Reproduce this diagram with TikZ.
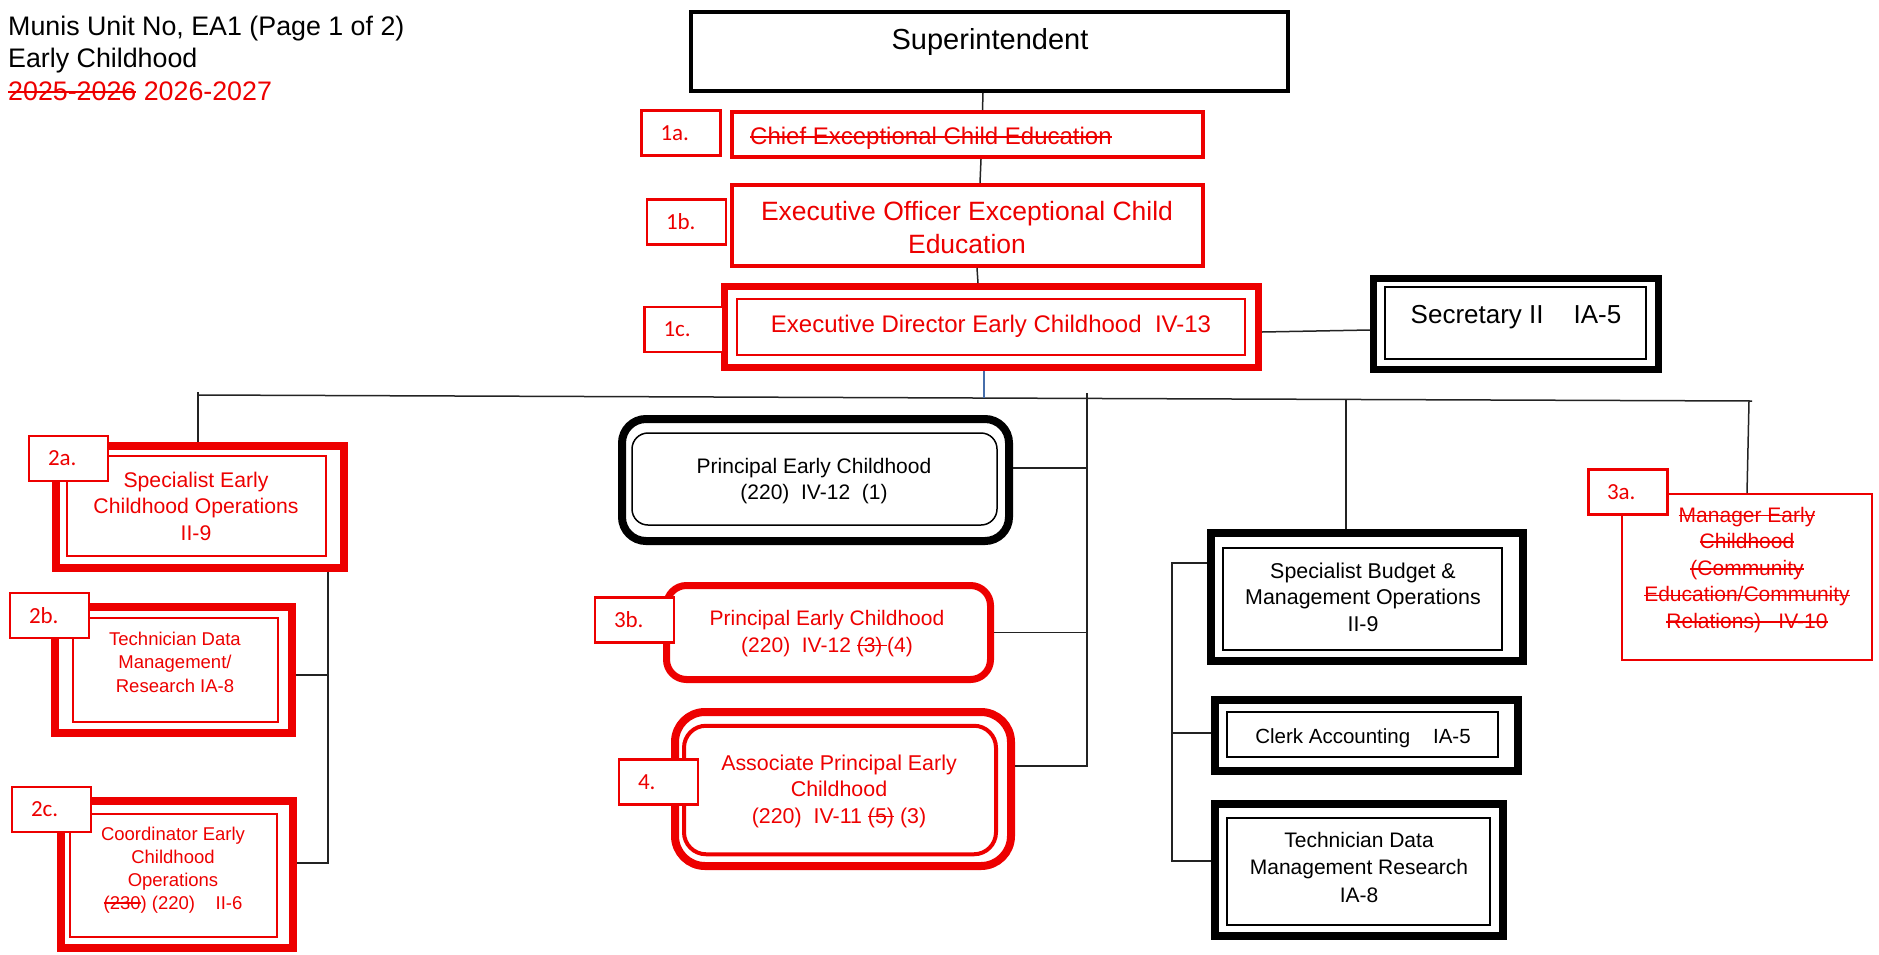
\documentclass[tikz,border=0pt]{standalone}
\usepackage{fontspec}
\setmainfont{Liberation Sans}
\newfontfamily\labfont{Carlito}
\usetikzlibrary{calc}
\definecolor{ecred}{RGB}{237,0,0}
\definecolor{linegray}{RGB}{35,35,35}
\definecolor{linkblue}{RGB}{70,110,170}
% centred multi-line text whose baseline is the first line
\newcommand{\ml}[1]{\begin{tabular}[t]{@{}c@{}}#1\end{tabular}}
\newcommand{\fs}[2]{\fontsize{#1pt}{#2pt}\selectfont}
% struck-through text
\newsavebox\stkbox
\newcommand{\stk}[1]{\sbox\stkbox{#1}\rlap{\usebox\stkbox}\rule[0.27em]{\wd\stkbox}{1.6pt}}

\begin{document}
\begin{tikzpicture}[x=1pt,y=-1pt,
  box/.style={inner sep=0pt},
  redthick/.style={box, draw=ecred, line width=7.5pt},
  redmid/.style={box, draw=ecred, line width=4pt},
  redthin/.style={box, draw=ecred, line width=1.5pt},
  blkthick/.style={box, draw=black, line width=8pt},
  blkthin/.style={box, draw=black, line width=1.5pt},
  lbl/.style={draw=ecred, line width=2.5pt, fill=white, text=ecred,
    font=\labfont\fs{23}{27}, inner xsep=19pt, inner ysep=0pt,
    text width=41pt, align=left, minimum height=45pt},
  txt/.style={anchor=base, inner sep=0pt},
  conn/.style={draw=linegray, line width=1.5pt},
  blueconn/.style={draw=linkblue, line width=1.2pt}]
\useasboundingbox (0,0) rectangle (1879,954);

% ---- heading ----
\node[anchor=base west, inner sep=0pt, font=\fs{26.8}{32}] (t1) at (8,35) {Munis Unit No, EA1 (Page 1 of 2)};
\node[anchor=base west, inner sep=0pt, font=\fs{26.8}{32}] (t2) at (8,67) {Early Childhood};
\node[anchor=base west, inner sep=0pt, font=\fs{26.8}{32}, text=ecred] (t3) at (8,100) {\stk{2025-2026} 2026-2027};

% ---- top chain ----
\node[box, draw=black, line width=3.5pt, minimum width=597pt, minimum height=79pt] (sup) at (989.5,51.5) {};
\node[txt, font=\fs{29}{34}] (suptxt) at (990,49) {Superintendent};

\node[redmid, minimum width=471pt, minimum height=45pt] (chief) at (967.5,134.5) {};
\node[anchor=base west, inner sep=0pt, font=\fs{24}{28}, text=ecred] (chieftxt) at (750,144) {\stk{Chief Exceptional Child Education}};

\node[redmid, minimum width=471pt, minimum height=81pt] (eo) at (967.5,225.5) {};
\node[txt, font=\fs{26.5}{33}, text=ecred] (eotxt) at (967,220) {\ml{Executive Officer Exceptional Child\\Education}};

\node[box, draw=ecred, line width=7pt, minimum width=534pt, minimum height=81pt] (ed) at (991.5,327) {};
\node[redthin, minimum width=508pt, minimum height=56pt] (edin) at (991,327) {};
\node[txt, font=\fs{24}{28}, text=ecred] (edtxt) at (991,332) {Executive Director Early Childhood~~IV-13};

\node[box, draw=black, line width=7pt, minimum width=285pt, minimum height=91pt] (sec) at (1516,324) {};
\node[blkthin, minimum width=261pt, minimum height=72pt] (secin) at (1515.5,323) {};
\node[txt, font=\fs{26}{30}] (sectxt) at (1516,323) {Secretary II\hspace{30pt}IA-5};

\draw[conn] ([xshift=-6.5pt]sup.south) -- ([xshift=15pt]chief.north);
\draw[conn] ([xshift=13.5pt]chief.south) -- ([xshift=12.5pt]eo.north);
\draw[conn] ([xshift=9.5pt]eo.south) -- ([xshift=-13.5pt]ed.north);
\draw[conn] ([yshift=-5pt]ed.east) -- ([yshift=-6pt]sec.west);

% ---- main bus ----
\coordinate (busL) at (198,395);
\coordinate (busR) at (1752,401);
\coordinate (jA) at (984,398);
\coordinate (jB) at (1346,399.4);
\coordinate (jM) at (1749,401);
\coordinate (lTop) at (198,392);
\coordinate (cTop) at (1087,393);
\draw[conn] (busL) -- (busR);
\draw[blueconn] ([xshift=-7.5pt]ed.south) -- (jA);

% ---- left column ----
\node[redthick, minimum width=288pt, minimum height=122pt] (sa) at (200,507) {};
\node[redthin, minimum width=259pt, minimum height=100pt] (sain) at (196.5,506) {};
\node[txt, font=\fs{21.2}{26.5}, text=ecred] (satxt) at (196,487) {\ml{Specialist Early\\Childhood Operations\\II-9}};

\node[redthick, minimum width=237pt, minimum height=126pt] (tdm) at (173.5,670) {};
\node[redthin, minimum width=205pt, minimum height=104pt] (tdmin) at (175.5,670) {};
\node[txt, font=\fs{18.5}{23.5}, text=ecred] (tdmtxt) at (175,645) {\ml{Technician Data\\Management/\\Research IA-8}};

\node[redthick, minimum width=232pt, minimum height=147pt] (cc) at (177,874.5) {};
\node[redthin, minimum width=207pt, minimum height=123pt] (ccin) at (173.5,875.5) {};
\node[txt, font=\fs{18.5}{23}, text=ecred] (cctxt) at (173,840) {\ml{Coordinator Early\\Childhood\\Operations\\\stk{(230}) (220)~~~~II-6}};

\draw[conn] (lTop) -- (sa.north -| lTop);
\coordinate (lCol) at ([xshift=128pt]sa.south);
\draw[conn] (lCol) |- ([yshift=11.5pt]cc.east);
\draw[conn] ([yshift=-5pt]tdm.east) -- ([yshift=-5pt]tdm.east -| lCol);

% ---- centre column ----
\node[blkthick, rounded corners=24pt, minimum width=387pt, minimum height=122pt] (pec) at (815.5,480) {};
\node[blkthin, rounded corners=16pt, minimum width=365pt, minimum height=92pt] (pecin) at (814.5,479) {};
\node[txt, font=\fs{21}{26}] (pectxt) at (814,473) {\ml{Principal Early Childhood\\(220)~~IV-12~~(1)}};

\node[box, draw=ecred, line width=7pt, rounded corners=20pt, minimum width=324pt, minimum height=94pt] (pb) at (828.5,632.5) {};
\node[txt, font=\fs{21}{27}, text=ecred] (pbtxt) at (827,625) {\ml{Principal Early Childhood\\(220)~~IV-12 \stk{(3)\phantom{i}}(4)}};

\node[blkthick, draw=ecred, rounded corners=30pt, minimum width=336pt, minimum height=154pt] (ap) at (843,789) {};
\node[redmid, rounded corners=22pt, minimum width=312pt, minimum height=128.5pt] (apin) at (840,790) {};
\node[txt, font=\fs{21.4}{26.5}, text=ecred] (aptxt) at (839,770) {\ml{Associate Principal Early\\Childhood\\(220)~~IV-11 \stk{(5)} (3)}};

\draw[conn] (cTop) |- ([yshift=23pt]ap.east);
\draw[conn] ([yshift=12pt]pec.east) -- ([yshift=12pt]pec.east -| cTop);
\draw[conn] (pb.east) -- (pb.east -| cTop);

% ---- right column ----
\node[blkthick, minimum width=312pt, minimum height=128pt] (bud) at (1367,597) {};
\node[blkthin, minimum width=279pt, minimum height=102pt] (budin) at (1362.5,599) {};
\node[txt, font=\fs{21.4}{26.5}] (budtxt) at (1363,578) {\ml{Specialist Budget \&\\Management Operations\\II-9}};

\node[blkthick, minimum width=303pt, minimum height=71pt] (clk) at (1366.5,735.5) {};
\node[blkthin, minimum width=271pt, minimum height=45pt] (clkin) at (1362.5,734.5) {};
\node[txt, font=\fs{20.5}{25}] (clktxt) at (1363,743) {Clerk Accounting~~~~IA-5};

\node[blkthick, minimum width=288pt, minimum height=132pt] (tech) at (1359,870) {};
\node[blkthin, minimum width=263pt, minimum height=107pt] (techin) at (1358.5,871.5) {};
\node[txt, font=\fs{21}{27.5}] (techtxt) at (1359,847) {\ml{Technician Data\\Management Research\\IA-8}};

\node[box, draw=ecred, line width=2pt, minimum width=250pt, minimum height=166pt] (mgr) at (1747,577) {};
\node[txt, font=\fs{21}{26.6}, text=ecred] (mgrtxt) at (1747,522) {\ml{\stk{Manager Early}\\\stk{Childhood}\\\stk{(Community}\\\stk{Education/Community}\\\stk{Relations)\phantom{III}IV-10}}};

\draw[conn] (jB) -- (jB |- bud.north);
\draw[conn] (jM) -- (mgr.north);
\coordinate (rCol) at (1172,563);
\draw[conn] ([yshift=34pt]bud.west) -- (rCol) |- ([yshift=9pt]tech.west);
\draw[conn] ([yshift=2.5pt]clk.west) -- ([yshift=2.5pt]clk.west -| rCol);

% ---- item labels ----
\node[lbl] (l1a) at (681,133) {1a.};
\node[lbl] (l1b) at (686.5,222) {1b.};
\node[lbl] (l1c) at (684,329.5) {1c.};
\node[lbl] (l2a) at (68.5,458.5) {2a.};
\node[lbl] (l2b) at (49.5,615.5) {2b.};
\node[lbl] (l2c) at (51.5,809.5) {2c.};
\node[lbl] (l3b) at (634.5,620) {3b.};
\node[lbl] (l4) at (658.5,782) {4.};
\node[lbl, line width=3pt] (l3a) at (1627.5,492) {3a.};
\end{tikzpicture}
\end{document}
